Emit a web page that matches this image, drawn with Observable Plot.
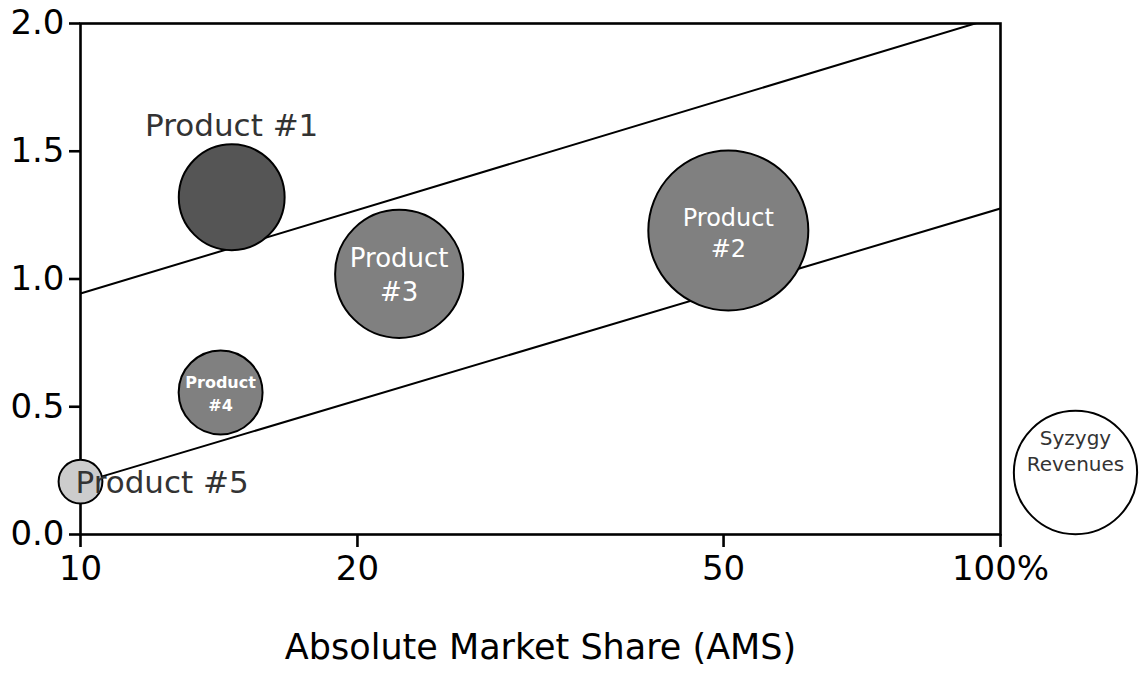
<!DOCTYPE html>
<html>
<head>
<meta charset="utf-8">
<script src="https://cdn.jsdelivr.net/npm/d3@7"></script>
<script src="https://cdn.jsdelivr.net/npm/@observablehq/plot@0.6"></script>
<style>
  html, body { margin: 0; padding: 0; background: #fff; }
  #chart svg { display: block; }
</style>
</head>
<body>
<div id="chart"></div>
<script>
// ---- data ----
const products = ["Product #1", "Product #2", "Product #3", "Product #4", "Product #5"];
const ams      = [14.6, 50.6, 22.2, 14.2, 10];       // absolute market share (%)
const growth   = [1.32, 1.19, 1.02, 0.556, 0.207];   // vertical axis value
const revenue  = [28, 64, 41, 17.6, 4.8];            // bubble size (Syzygy revenues)
const innerLabels = ["", "Product\n#2", "Product\n#3", "Product\n#4", ""];
const legendRevenue = 38;
const legendLabel = "Syzygy\nRevenues";
const xTicks = [10, 20, 50, 100];
const yTicks = [0, 0.5, 1.0, 1.5, 2.0];
const upperLineAms = [10, 100];
const upperLineY   = [0.943, 2.03];
const lowerLineAms = [10, 100];
const lowerLineY   = [0.202, 1.276];
const xTitle = "Absolute Market Share (AMS)";

const data = products.map((name, i) => ({name, ams: ams[i], growth: growth[i], revenue: revenue[i], inner: innerLabels[i]}));
const upper = upperLineAms.map((x, i) => ({x, y: upperLineY[i]}));
const lower = lowerLineAms.map((x, i) => ({x, y: lowerLineY[i]}));

const byName = n => data.filter(d => d.name === n);

const chart = Plot.plot({
  width: 1144,
  height: 679,
  marginLeft: 80,
  marginRight: 144,
  marginTop: 23,
  marginBottom: 145,
  style: {fontFamily: "'DejaVu Sans', Verdana, sans-serif", background: "white", color: "black"},
  x: {type: "log", domain: [10, 100]},
  y: {domain: [0, 2]},
  r: {type: "sqrt", domain: [0, 64], range: [0, 80]},
  color: {type: "ordinal", domain: products, range: ["#555555", "#808080", "#808080", "#808080", "#cccccc"]},
  marks: [
    Plot.frame({stroke: "black", strokeWidth: 2.6}),
    Plot.axisX({ticks: xTicks, tickFormat: d => d === 100 ? "100%" : String(d), tickSize: 13, tickPadding: 8, fontSize: 34, strokeWidth: 2.6, label: null}),
    Plot.axisY({ticks: yTicks, tickFormat: d3.format(".1f"), tickSize: 11, tickPadding: 5, fontSize: 34, strokeWidth: 2.6, label: null}),
    Plot.line(upper, {x: "x", y: "y", stroke: "black", strokeWidth: 2, clip: true}),
    Plot.line(lower, {x: "x", y: "y", stroke: "black", strokeWidth: 2, clip: true}),
    Plot.dot(data, {x: "ams", y: "growth", r: "revenue", fill: "name", stroke: "black", strokeWidth: 2}),
    // outer labels
    Plot.text(byName("Product #1"), {x: "ams", y: "growth", text: "name", dy: -71, fontSize: 31, fill: "#333"}),
    Plot.text(byName("Product #5"), {x: "ams", y: "growth", text: "name", textAnchor: "start", dx: -5, dy: 1, fontSize: 31, fill: "#333"}),
    // inner labels
    Plot.text(byName("Product #2"), {x: "ams", y: "growth", text: "inner", dy: 1, fontSize: 24, lineHeight: 1.3, fill: "white"}),
    Plot.text(byName("Product #3"), {x: "ams", y: "growth", text: "inner", dy: -1, fontSize: 26, lineHeight: 1.32, fill: "white"}),
    Plot.text(byName("Product #4"), {x: "ams", y: "growth", text: "inner", dy: 0, fontSize: 16, fontWeight: "bold", lineHeight: 1.45, fill: "white"}),
    // size legend bubble
    Plot.dot([legendRevenue], {r: d => d, frameAnchor: "bottom-right", dx: 75, dy: -62, fill: "white", stroke: "black", strokeWidth: 2}),
    Plot.text([legendLabel], {frameAnchor: "bottom-right", textAnchor: "middle", dx: 75, dy: -64, fontSize: 20, lineHeight: 1.3, fill: "#333"}),
    // x axis title
    Plot.text([xTitle], {frameAnchor: "bottom", dy: 124, fontSize: 35, fill: "black"})
  ]
});
document.getElementById("chart").appendChild(chart);
</script>
</body>
</html>
